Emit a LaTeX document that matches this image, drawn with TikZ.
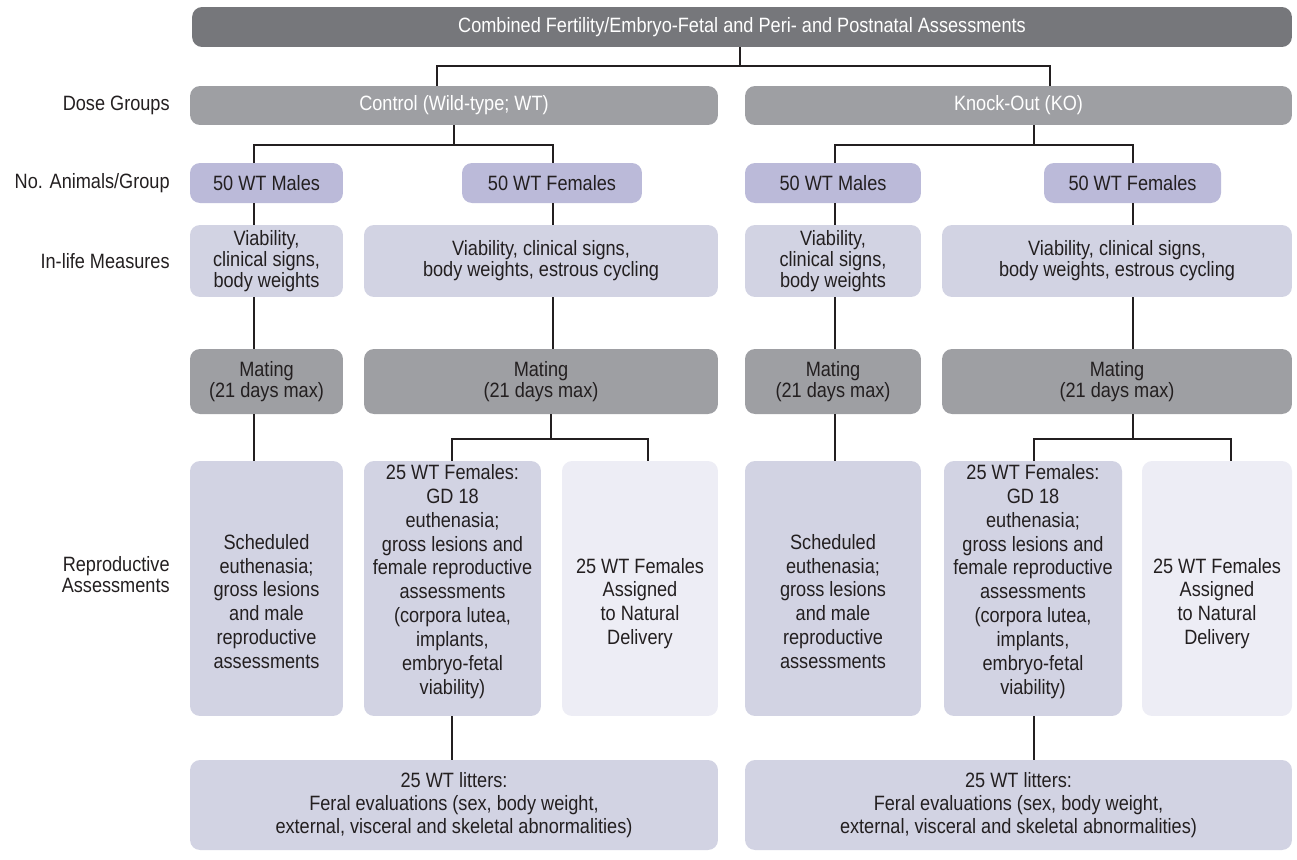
\documentclass[tikz,border=0pt]{standalone}
\usepackage{fontspec}
\setmainfont{Liberation Sans}[FakeStretch=0.875]
\definecolor{ink}{HTML}{231F20}
\definecolor{topgray}{HTML}{76777B}
\definecolor{midgray}{HTML}{9E9FA3}
\definecolor{lilac}{HTML}{BBBAD9}
\definecolor{pale}{HTML}{D2D3E3}
\definecolor{palest}{HTML}{EDEDF5}

\begin{document}
\begin{tikzpicture}[x=0.02cm,y=-0.02cm,
    box/.style={rounded corners=0.2cm,inner sep=0pt,align=center,text=ink,
      font=\fontsize{11.8}{12}\selectfont},
    tall/.style={box,font=\fontsize{11.8}{13.6}\selectfont},
    side/.style={anchor=east,align=right,text=ink,inner sep=0pt,
      font=\fontsize{11.8}{12}\selectfont},
    link/.style={draw=ink,line width=1.3pt}]
    \useasboundingbox (0,0) rectangle (1297,859);
    % top and dose groups
    \node[box,fill=topgray,text=white,minimum width=22cm,minimum height=0.8cm] (all) at (742,27) {Combined Fertility/Embryo-Fetal and Peri- and Postnatal Assessments};
    \node[box,fill=midgray,text=white,minimum width=10.56cm,minimum height=0.78cm] (wt) at (454,105.5) {Control (Wild-type; WT)};
    \node[box,fill=midgray,text=white,minimum width=10.94cm,minimum height=0.78cm] (ko) at (1018.5,105.5) {Knock-Out (KO)};
    % animals
    \node[box,fill=lilac,minimum width=3.06cm,minimum height=0.8cm] (wtm) at (266.5,183) {50 WT Males};
    \node[box,fill=lilac,minimum width=3.6cm,minimum height=0.8cm] (wtf) at (552,183) {50 WT Females};
    \node[box,fill=lilac,minimum width=3.52cm,minimum height=0.8cm] (kom) at (833,183) {50 WT Males};
    \node[box,fill=lilac,minimum width=3.54cm,minimum height=0.8cm] (kof) at (1132.5,183) {50 WT Females};
    % in-life
    \node[box,fill=pale,minimum width=3.06cm,minimum height=1.44cm] (wtmv) at (266.5,261) {Viability,\\clinical signs,\\body weights};
    \node[box,fill=pale,minimum width=7.08cm,minimum height=1.44cm] (wtfv) at (541,261) {Viability, clinical signs,\\body weights, estrous cycling};
    \node[box,fill=pale,minimum width=3.52cm,minimum height=1.44cm] (komv) at (833,261) {Viability,\\clinical signs,\\body weights};
    \node[box,fill=pale,minimum width=7cm,minimum height=1.44cm] (kofv) at (1117,261) {Viability, clinical signs,\\body weights, estrous cycling};
    % mating
    \node[box,fill=midgray,minimum width=3.06cm,minimum height=1.3cm] (wtmm) at (266.5,381.5) {Mating\\(21 days max)};
    \node[box,fill=midgray,minimum width=7.08cm,minimum height=1.3cm] (wtfm) at (541,381.5) {Mating\\(21 days max)};
    \node[box,fill=midgray,minimum width=3.52cm,minimum height=1.3cm] (komm) at (833,381.5) {Mating\\(21 days max)};
    \node[box,fill=midgray,minimum width=7cm,minimum height=1.3cm] (kofm) at (1117,381.5) {Mating\\(21 days max)};
    % reproductive (text set a little off centre, as printed)
    \node[tall,fill=pale,minimum width=3.06cm,minimum height=5.1cm,
      label={[tall,yshift=-0.26cm]center:{Scheduled\\euthenasia;\\gross lesions\\and male\\reproductive\\assessments}}] (wtmr) at (266.5,588.5) {};
    \node[tall,fill=pale,minimum width=3.54cm,minimum height=5.1cm,
      label={[tall,yshift=0.14cm]center:{25 WT Females:\\GD 18\\euthenasia;\\gross lesions and\\female reproductive\\assessments\\(corpora lutea,\\implants,\\embryo-fetal\\viability)}}] (wtfr) at (452.5,588.5) {};
    \node[tall,fill=palest,minimum width=3.12cm,minimum height=5.1cm,
      label={[tall,yshift=-0.3cm]center:{25 WT Females\\Assigned\\to Natural\\Delivery}}] (wtfn) at (640,588.5) {};
    \node[tall,fill=pale,minimum width=3.52cm,minimum height=5.1cm,
      label={[tall,yshift=-0.26cm]center:{Scheduled\\euthenasia;\\gross lesions\\and male\\reproductive\\assessments}}] (komr) at (833,588.5) {};
    \node[tall,fill=pale,minimum width=3.56cm,minimum height=5.1cm,
      label={[tall,yshift=0.14cm]center:{25 WT Females:\\GD 18\\euthenasia;\\gross lesions and\\female reproductive\\assessments\\(corpora lutea,\\implants,\\embryo-fetal\\viability)}}] (kofr) at (1033,588.5) {};
    \node[tall,fill=palest,minimum width=3cm,minimum height=5.1cm,
      label={[tall,yshift=-0.3cm]center:{25 WT Females\\Assigned\\to Natural\\Delivery}}] (kofn) at (1217,588.5) {};
    % litters
    \node[box,fill=pale,minimum width=10.56cm,minimum height=1.8cm,font=\fontsize{11.8}{13}\selectfont] (wtl) at (454,805) {25 WT litters:\\Feral evaluations (sex, body weight,\\external, visceral and skeletal abnormalities)};
    \node[box,fill=pale,minimum width=10.94cm,minimum height=1.8cm,font=\fontsize{11.8}{13}\selectfont] (kol) at (1018.5,805) {25 WT litters:\\Feral evaluations (sex, body weight,\\external, visceral and skeletal abnormalities)};
    % row labels
    \node[side] (lbdose) at (170,105.5) {Dose Groups};
    \node[side] (lbno) at (170,183) {No. Animals/Group};
    \node[side] (lblife) at (170,261) {In-life Measures};
    \node[side] (lbrep) at (170,575) {Reproductive\\Assessments};
    % connectors
    \draw[link] (all.south -| 740,0) -- (740,66) -| (wt.north -| 437,0);
    \draw[link] (740,66) -| (ko.north -| 1050,0);
    \draw[link] (wt.south) -- (454,145) -| (wtm.north -| 254,0);
    \draw[link] (454,145) -| (wtf.north -| 553,0);
    \draw[link] (ko.south -| 1034,0) -- (1034,145) -| (kom.north -| 835,0);
    \draw[link] (1034,145) -| (kof.north -| 1133,0);
    \draw[link] (wtm.south -| 254,0) -- (wtmv.north -| 254,0);
    \draw[link] (wtf.south -| 553,0) -- (wtfv.north -| 553,0);
    \draw[link] (kom.south -| 835,0) -- (komv.north -| 835,0);
    \draw[link] (kof.south -| 1133,0) -- (kofv.north -| 1133,0);
    \draw[link] (wtmv.south -| 254,0) -- (wtmm.north -| 254,0);
    \draw[link] (wtfv.south -| 553,0) -- (wtfm.north -| 553,0);
    \draw[link] (komv.south -| 835,0) -- (komm.north -| 835,0);
    \draw[link] (kofv.south -| 1133,0) -- (kofm.north -| 1133,0);
    \draw[link] (wtmm.south -| 254,0) -- (wtmr.north -| 254,0);
    \draw[link] (komm.south -| 835,0) -- (komr.north -| 835,0);
    \draw[link] (wtfm.south -| 551,0) -- (551,439) -| (wtfr.north -| 452,0);
    \draw[link] (551,439) -| (wtfn.north -| 648,0);
    \draw[link] (kofm.south -| 1133,0) -- (1133,439) -| (kofr.north -| 1034,0);
    \draw[link] (1133,439) -| (kofn.north -| 1231,0);
    \draw[link] (wtfr.south -| 452,0) -- (wtl.north -| 452,0);
    \draw[link] (kofr.south -| 1034,0) -- (kol.north -| 1034,0);
\end{tikzpicture}
\end{document}
